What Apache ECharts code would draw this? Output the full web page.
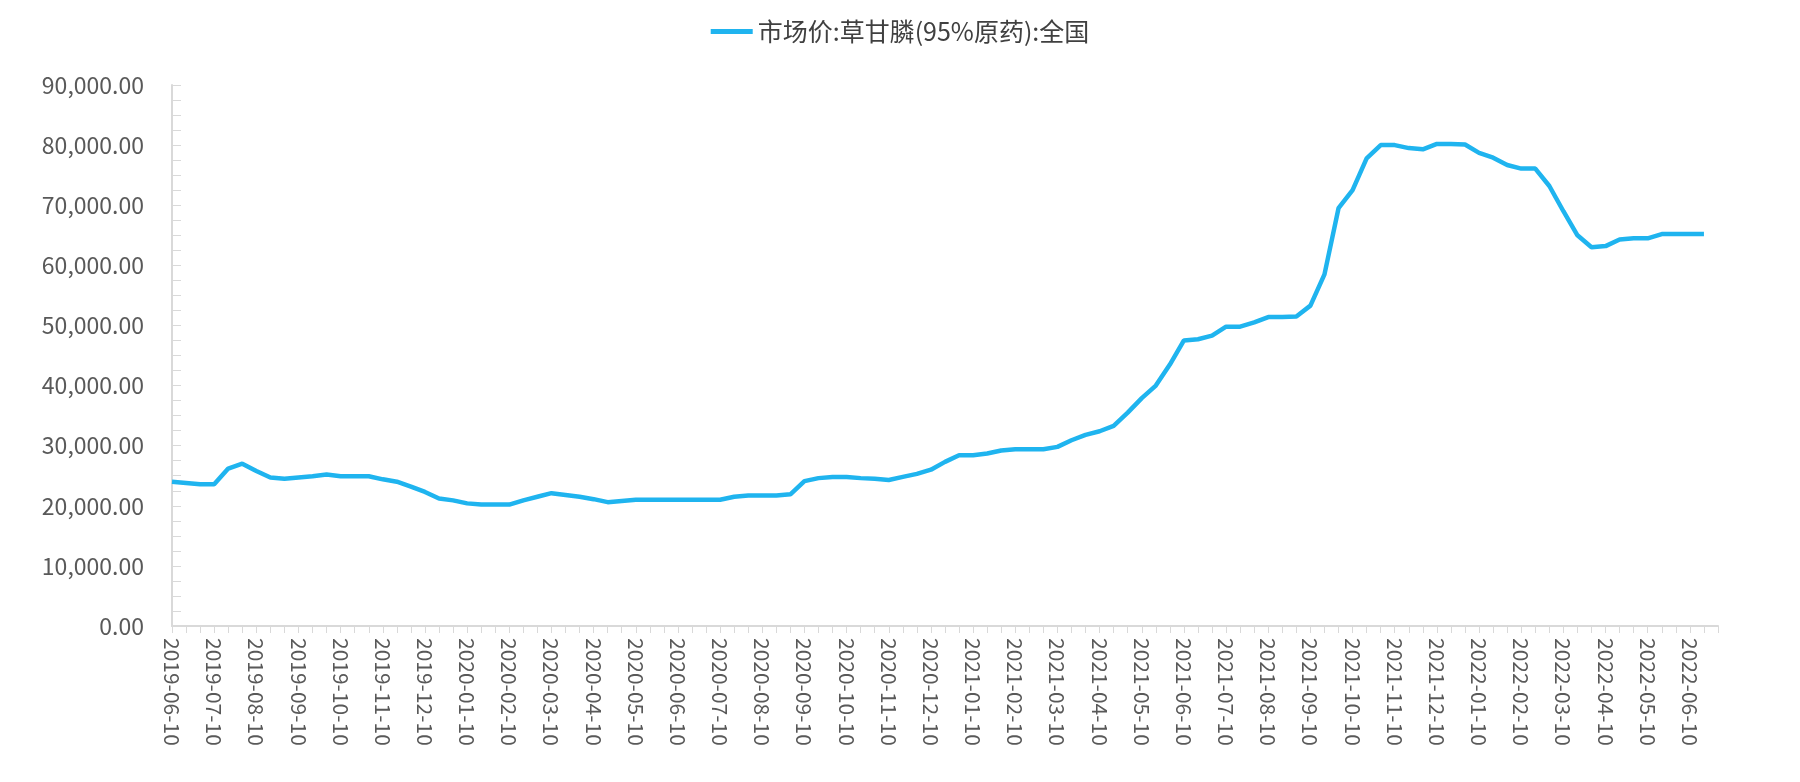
<!DOCTYPE html>
<html>
<head>
<meta charset="utf-8">
<script src="https://cdn.jsdelivr.net/npm/echarts@6/dist/echarts.min.js"></script>
<style>html,body{margin:0;background:#fff}#chart{width:1800px;height:782px}</style>
</head>
<body>
<div id="chart"></div>
<script>
// 日期：每月10/20/30日
const dates = [];
for (let y = 2019; y <= 2022; y++) {
    for (let m = 1; m <= 12; m++) {
        if (y === 2019 && m < 6) continue;
        if (y === 2022 && m > 6) break;
        const mm = String(m).padStart(2, '0');
        dates.push(`${y}-${mm}-10`, `${y}-${mm}-20`, `${y}-${mm}-${m === 2 ? '28' : '30'}`);
    }
}
// 市场价:草甘膦(95%原药):全国
const prices = [
    24000, 23800, 23600, 23600, 26200, 27000, 25800, 24700, 24500, 24700,
    24900, 25200, 24900, 24900, 24900, 24400, 24000, 23200, 22300, 21200,
    20900, 20400, 20200, 20200, 20200, 20900, 21500, 22100, 21800, 21500,
    21100, 20600, 20800, 21000, 21000, 21000, 21000, 21000, 21000, 21000,
    21500, 21700, 21700, 21700, 21900, 24100, 24600, 24800, 24800, 24600,
    24500, 24300, 24800, 25300, 26000, 27300, 28400, 28400, 28700, 29200,
    29400, 29400, 29400, 29800, 30900, 31800, 32400, 33300, 35500, 37900,
    40000, 43500, 47500, 47700, 48300, 49800, 49800, 50500, 51400, 51400,
    51500, 53300, 58500, 69500, 72500, 77800, 80000, 80000, 79500, 79300,
    80200, 80200, 80100, 78700, 77900, 76700, 76100, 76100, 73200, 69000,
    65000, 63000, 63200, 64300, 64500, 64500, 65200, 65200, 65200, 65200
];

var chart = echarts.init(document.getElementById('chart'));
chart.setOption({
    animation: false,
    textStyle: { fontFamily: 'Noto Sans CJK SC' },
    legend: {
        top: 14,
        left: 'center',
        itemWidth: 42,
        itemHeight: 5,
        icon: 'rect',
        textStyle: { fontSize: 25, color: '#404040' },
        data: ['市场价:草甘膦(95%原药):全国']
    },
    grid: { left: 172, right: 82, top: 85, bottom: 156 },
    xAxis: {
        type: 'category',
        data: dates,
        boundaryGap: false,
        axisLine: { lineStyle: { color: '#d9d9d9', width: 2 } },
        axisTick: { interval: 0, length: 7, lineStyle: { color: '#d9d9d9' } },
        axisLabel: { interval: 2, rotate: -90, fontSize: 21, color: '#595959', margin: 12 }
    },
    yAxis: {
        type: 'value',
        min: 0, max: 90000, interval: 10000,
        axisLine: { show: true, lineStyle: { color: '#d9d9d9', width: 2 } },
        axisTick: { show: true, inside: true, length: 9, lineStyle: { color: '#d9d9d9' } },
        minorTick: { show: true, splitNumber: 4, length: 9, lineStyle: { color: '#d9d9d9' } },
        splitLine: { show: false },
        axisLabel: {
            fontSize: 23, color: '#595959', margin: 28,
            formatter: v => v.toLocaleString('en-US', { minimumFractionDigits: 2, maximumFractionDigits: 2 })
        }
    },
    series: [{
        name: '市场价:草甘膦(95%原药):全国',
        type: 'line',
        data: prices,
        symbol: 'none',
        lineStyle: { color: '#1fb4ef', width: 4.5 },
        itemStyle: { color: '#1fb4ef' }
    }]
});
</script>
</body>
</html>
